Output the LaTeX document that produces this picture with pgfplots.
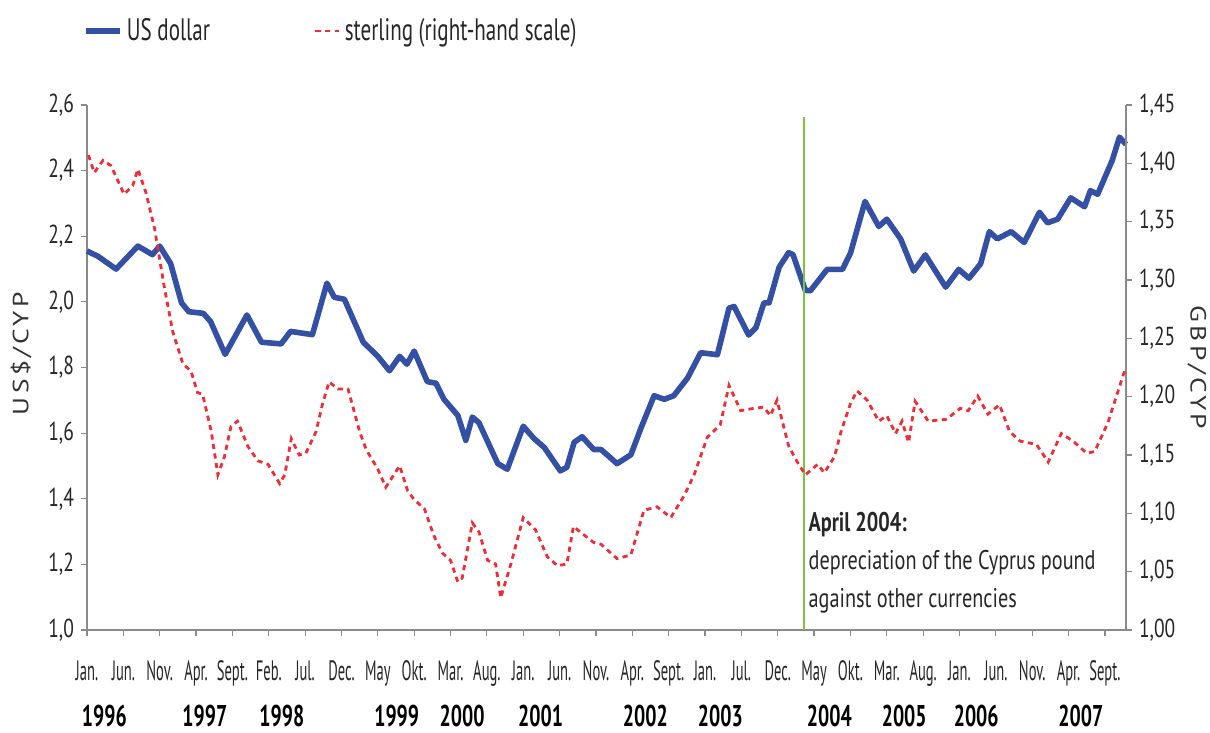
\documentclass[border=0pt]{standalone}
\usepackage{fontspec}
\setmainfont{PT Sans}[FakeStretch=0.75]
\newfontfamily\monthfont{PT Sans}[FakeStretch=0.52]
\newfontfamily\yearfont{PT Sans}[FakeStretch=0.66]
\newfontfamily\legfont{PT Sans}[FakeStretch=0.68]
\newfontfamily\labelfont{PT Sans}[FakeStretch=1.25,LetterSpace=15]
\usepackage{pgfplots}
\pgfplotsset{compat=1.18}
\usetikzlibrary{calc}
\definecolor{usd}{HTML}{3450A4}
\definecolor{gbp}{HTML}{EE2D36}
\definecolor{grn}{HTML}{7DC242}
\definecolor{axgray}{HTML}{8A8A8A}
\tikzset{yr/.style={font=\yearfont\bfseries\fontsize{15}{17}\selectfont, yshift=-43pt}}
\pgfplotsset{
  usdleg/.style={legend image code/.code={\draw[##1] (0pt,0pt) -- (17pt,0pt);}},
  gbpleg/.style={legend image code/.code={\draw[##1] (0pt,0pt) -- (12pt,0pt);}},
}
\begin{document}
\begin{tikzpicture}
\pgfplotsset{
  common/.style={
    width=519.5pt, height=262.5pt, scale only axis,
    xmin=0, xmax=142.9,
    axis line style={axgray, line width=1.2pt},
    tick style={axgray, line width=0.6pt},
    major tick length=3pt,
    tick align=outside,
    /pgf/number format/assume math mode=true,
    /pgf/number format/use comma,
    /pgf/number format/fixed,
    /pgf/number format/fixed zerofill,
    ticklabel style={font=\fontsize{13}{15}\selectfont, text=black!85},
    clip=false,
  },
}
\begin{axis}[common, name=main,
  ymin=1.0, ymax=2.6,
  axis y line*=left, axis x line*=bottom,
  ytick={1.0,1.2,1.4,1.6,1.8,2.0,2.2,2.4,2.6},
  yticklabel style={/pgf/number format/precision=1},
  xtick={0,5,...,140},
  xticklabels={Jan.,Jun.,Nov.,Apr.,Sept.,Feb.,Jul.,Dec.,May,Okt.,Mar.,Aug.,Jan.,Jun.,Nov.,Apr.,Sept.,Jan.,Jul.,Dec.,May,Okt.,Mar.,Aug.,Jan.,Jun.,Nov.,Apr.,Sept.},
  xticklabel style={font=\monthfont\fontsize{14}{16}\selectfont, anchor=base, yshift=-22pt},
]
\addplot[usd, line width=2.8pt, line join=round] coordinates {
(0,2.155) (1.5,2.139) (4,2.10) (7,2.17) (9,2.144) (10,2.17) (11.5,2.117) (13,1.997) (14,1.97) (16,1.965) (17,1.94) (19,1.84) (22,1.96) (24,1.877) (26.7,1.872) (28,1.91) (31,1.90) (33,2.057) (34,2.014) (35.4,2.008) (38,1.877) (40,1.834) (41.6,1.79) (43,1.834) (44,1.81) (45,1.85) (46.8,1.757) (48,1.752) (49.1,1.703) (51,1.654) (52.1,1.578) (53,1.649) (53.9,1.632) (56.5,1.507) (57.8,1.49) (60,1.621) (61.5,1.583) (62.9,1.556) (65.1,1.485) (66,1.496) (67,1.572) (68.1,1.589) (69.7,1.55) (70.7,1.55) (72.9,1.507) (74.8,1.534) (76.2,1.616) (78,1.714) (79.4,1.703) (80.7,1.714) (82.6,1.768) (84.4,1.845) (86.7,1.839) (88.3,1.981) (89,1.986) (91,1.899) (92,1.921) (93.1,1.997) (93.8,1.997) (95.2,2.106) (96.5,2.15) (97.1,2.144) (98.8,2.035) (99.5,2.034) (101.8,2.099) (103.9,2.099) (105,2.148) (107,2.306) (108.9,2.23) (110,2.252) (111.9,2.192) (113.7,2.094) (115.3,2.143) (118.1,2.045) (119.9,2.099) (121.3,2.072) (122.9,2.116) (124.1,2.214) (125.2,2.192) (127.1,2.214) (128.9,2.181) (131,2.273) (132.1,2.241) (133.5,2.252) (135.3,2.317) (137.2,2.29) (138,2.339) (139,2.328) (141,2.431) (142,2.502) (142.9,2.48)
};
\addplot[grn, line width=1pt] coordinates {(98.6,1.0) (98.6,2.564)};
\node[anchor=north west, align=left, inner sep=0pt, font=\fontsize{13.5}{19}\selectfont, text=black!85] at (axis cs:99.2,1.36) {\textbf{April 2004:}\\depreciation of the Cyprus pound\\against other currencies};
\node[yr] at (axis cs:2.4,1.0) {1996};
\node[yr] at (axis cs:16.2,1.0) {1997};
\node[yr] at (axis cs:26.8,1.0) {1998};
\node[yr] at (axis cs:42.6,1.0) {1999};
\node[yr] at (axis cs:51.6,1.0) {2000};
\node[yr] at (axis cs:62.4,1.0) {2001};
\node[yr] at (axis cs:76.8,1.0) {2002};
\node[yr] at (axis cs:87.1,1.0) {2003};
\node[yr] at (axis cs:102.1,1.0) {2004};
\node[yr] at (axis cs:112.4,1.0) {2005};
\node[yr] at (axis cs:122.3,1.0) {2006};
\node[yr] at (axis cs:136.7,1.0) {2007};
\end{axis}
\begin{axis}[common,
  ymin=1.0, ymax=1.45,
  axis y line*=right, axis x line=none,
  ytick={1.00,1.05,1.10,1.15,1.20,1.25,1.30,1.35,1.40,1.45},
  yticklabel style={/pgf/number format/precision=2},
  legend columns=2,
  legend style={at={(-0.004,1.141)}, anchor=west, draw=none, fill=none, inner sep=0pt, font=\legfont\fontsize{15.5}{17}\selectfont, text=black!85},
]
\addlegendimage{usd, line width=2.8pt, usdleg}
\addlegendentry{US dollar\hspace*{50pt}}
\addplot[gbp, line width=1.4pt, dash pattern=on 2.6pt off 2.2pt, gbpleg] coordinates {
(0.2,1.407) (1,1.392) (2.2,1.4025) (3.3,1.398) (5.1,1.3735) (6.3,1.381) (7,1.395) (8.1,1.375) (9.3,1.344) (10.6,1.295) (11.8,1.2556) (13.2,1.228) (14.3,1.222) (15.2,1.2035) (15.9,1.202) (17.1,1.170) (18,1.133) (18.9,1.1485) (19.8,1.1745) (20.7,1.179) (22.1,1.1577) (23.5,1.145) (24.9,1.142) (26.5,1.1255) (27.2,1.133) (28.1,1.164) (29.2,1.15) (30.1,1.1515) (31.5,1.17) (32.4,1.194) (33.3,1.2127) (34.5,1.2066) (35.9,1.2066) (37.5,1.17) (38.4,1.1546) (40,1.1378) (41.1,1.1224) (43,1.1408) (44.1,1.1194) (45,1.1117) (46.4,1.104) (47.7,1.081) (48.9,1.0658) (50,1.0597) (51,1.0413) (51.6,1.0444) (53,1.0918) (53.9,1.0842) (55.1,1.0597) (56.2,1.0566) (56.9,1.0276) (58.3,1.0566) (60,1.0964) (61.7,1.0857) (63.3,1.0628) (64.7,1.0551) (66,1.0566) (66.9,1.0888) (68.1,1.0827) (69.7,1.075) (70.7,1.0735) (72.9,1.0612) (74.8,1.0643) (76.6,1.1026) (78.4,1.1056) (80.3,1.0964) (82.1,1.1148) (83.5,1.133) (85.3,1.165) (87.1,1.176) (88.3,1.2097) (89.9,1.188) (91.7,1.19) (93.1,1.191) (94,1.1837) (94.9,1.197) (96.5,1.1577) (97.7,1.1439) (98.8,1.133) (100.5,1.142) (101.4,1.1347) (102.8,1.1485) (103.7,1.17) (105,1.194) (105.9,1.205) (107.3,1.197) (108.9,1.179) (110,1.1837) (111.2,1.1684) (112.1,1.179) (113,1.1607) (113.9,1.196) (115.7,1.179) (118.2,1.1806) (120.1,1.19) (121.2,1.188) (122.5,1.2005) (123.9,1.185) (125.5,1.193) (126.9,1.17) (128.3,1.162) (130.6,1.159) (132.2,1.1439) (134,1.1684) (135.6,1.162) (137.5,1.1515) (138.6,1.153) (140.4,1.1776) (142.7,1.222)
};
\addlegendentry{sterling (right-hand scale)}
\end{axis}
\node[rotate=90, font=\labelfont\fontsize{11}{13}\selectfont, text=black!80] at ($(main.south west)!0.526!(main.north west)+(-33pt,0)$) {US\$/CYP};
\node[rotate=-90, font=\labelfont\fontsize{11}{13}\selectfont, text=black!80] at ($(main.south east)!0.5!(main.north east)+(35.5pt,0)$) {GBP/CYP};
\pgfresetboundingbox
\path[use as bounding box] ($(main.south west)+(-43.5pt,-51.5pt)$) rectangle ($(main.north east)+(42pt,52.5pt)$);
\end{tikzpicture}
\end{document}
